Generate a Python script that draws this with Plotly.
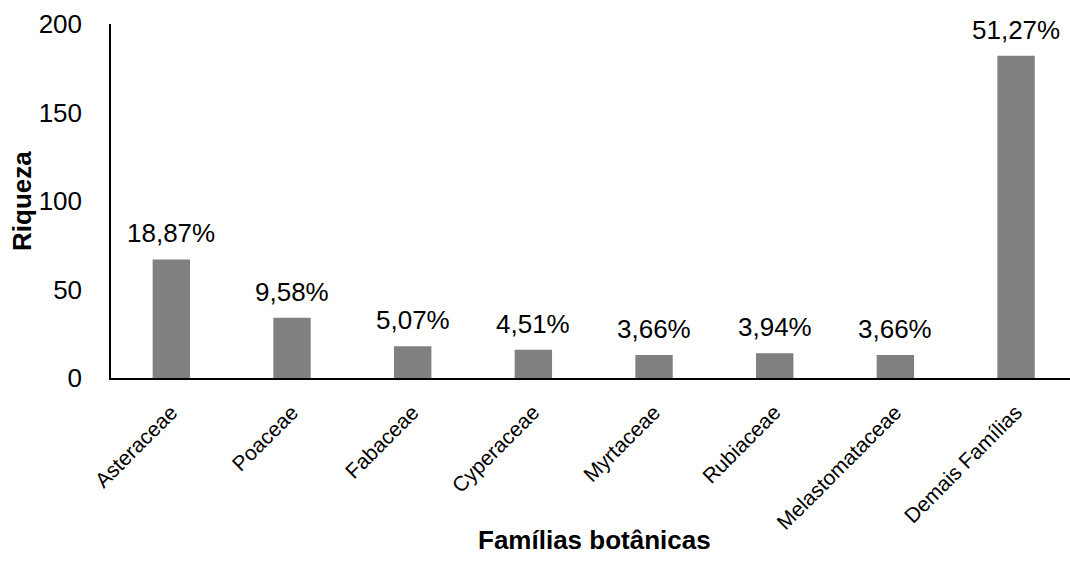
import plotly.graph_objects as go

familias = ["Asteraceae", "Poaceae", "Fabaceae", "Cyperaceae", "Myrtaceae",
            "Rubiaceae", "Melastomataceae", "Demais Famílias"]
riqueza = [67, 34, 18, 16, 13, 14, 13, 182]
percentuais = ["18,87%", "9,58%", "5,07%", "4,51%", "3,66%", "3,94%", "3,66%", "51,27%"]

W, H = 1070, 562
ML, MR, MT, MB = 111, 0, 24, 184
FONT = "Liberation Sans, Arial, sans-serif"

fig = go.Figure()
fig.add_trace(go.Bar(
    x=familias, y=riqueza,
    marker=dict(color="#808080", line=dict(width=0)),
    hoverinfo="x+y",
))

annotations = []
for f, v, p in zip(familias, riqueza, percentuais):
    annotations.append(dict(
        x=f, y=v, xref="x", yref="y", text=p, showarrow=False,
        yanchor="bottom", xanchor="center", yshift=9,
        font=dict(family=FONT, size=26, color="#000000"),
    ))

plot_h = H - MT - MB
plot_w = W - ML - MR
annotations.append(dict(
    x=(594 - ML) / plot_w, y=(H - MB - 540) / plot_h, xref="paper", yref="paper",
    text="<b>Famílias botânicas</b>", showarrow=False,
    xanchor="center", yanchor="middle",
    font=dict(family=FONT, size=26, color="#000000"),
))
annotations.append(dict(
    x=(22 - ML) / plot_w, y=0.5, xref="paper", yref="paper",
    text="<b>Riqueza</b>", showarrow=False, textangle=-90,
    xanchor="center", yanchor="middle",
    font=dict(family=FONT, size=26, color="#000000"),
))

fig.update_layout(
    width=W, height=H,
    margin=dict(l=ML, r=MR, t=MT, b=MB, autoexpand=False),
    paper_bgcolor="white", plot_bgcolor="white",
    bargap=0.69,
    showlegend=False,
    annotations=annotations,
    font=dict(family=FONT, color="#000000"),
)
fig.update_xaxes(
    type="category", range=[-0.5, 7.447],
    showline=True, linecolor="#000000", linewidth=1.5,
    showgrid=False, zeroline=False, ticks="",
    tickangle=-45, tickfont=dict(family=FONT, size=21, color="#000000"),
    ticklabelstandoff=12,
)
fig.update_yaxes(
    range=[0, 200], tickvals=[0, 50, 100, 150, 200],
    showline=True, linecolor="#000000", linewidth=1.5,
    showgrid=False, zeroline=False, ticks="",
    tickfont=dict(family=FONT, size=26, color="#000000"),
    ticklabelstandoff=22,
)

fig.write_html("out.html")
